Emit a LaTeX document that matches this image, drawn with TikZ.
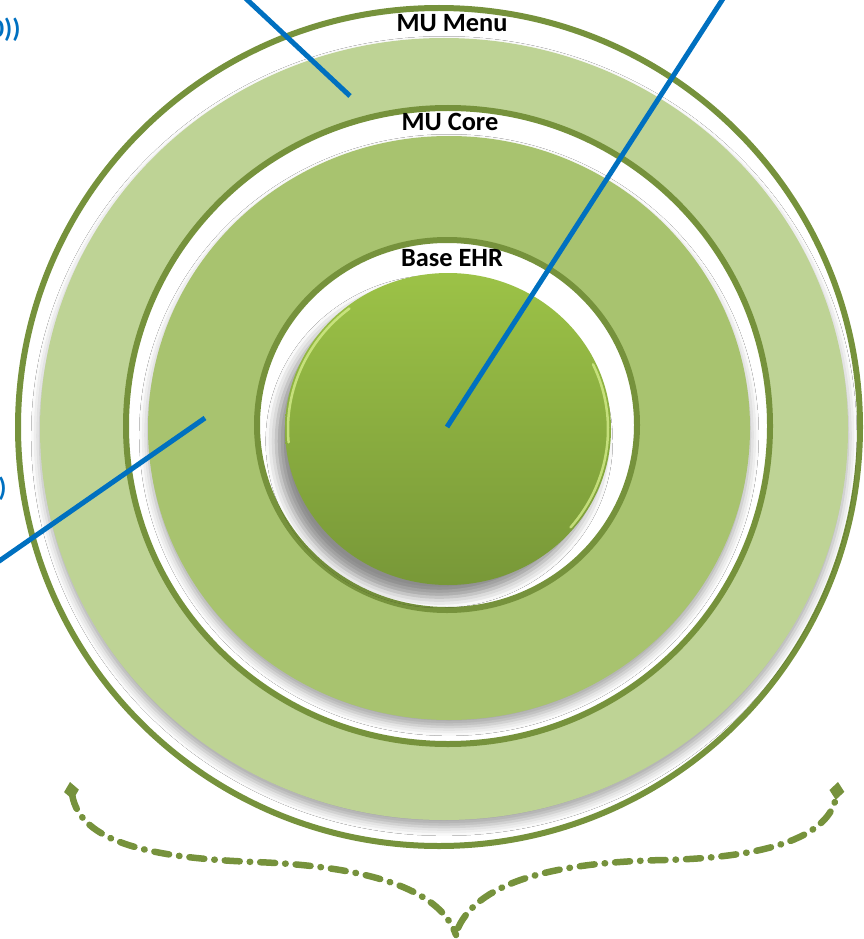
\documentclass[tikz,border=0pt]{standalone}
\usepackage{fontspec}
\setmainfont{Carlito}
\usetikzlibrary{arrows.meta,shadows.blur}

\definecolor{ringgreen}{HTML}{76923C}
\definecolor{menugreen}{HTML}{BED395}
\definecolor{coregreen}{HTML}{A8C36F}
\definecolor{basetop}{HTML}{9CC247}
\definecolor{basebot}{HTML}{789838}
\definecolor{baserim}{HTML}{D4EC8A}
\definecolor{callblue}{HTML}{0070C0}

\begin{document}
\begin{tikzpicture}[
    x=0.02cm, y=-0.02cm,
    outline/.style={
        draw=ringgreen,
        line width=0.12cm
    },
    ringfill/.style={
        blur shadow={shadow xshift=0pt, shadow yshift=-4pt,
            shadow blur radius=5pt, shadow opacity=35}
    },
    rim/.style={draw=baserim, line width=0.05cm, line cap=round, opacity=0.8},
    ringlabel/.style={
        font=\bfseries\fontsize{15}{18}\selectfont,
        inner sep=0pt
    },
    cut/.style={
        font=\bfseries\fontsize{15}{18}\selectfont,
        text=callblue,
        inner sep=0pt
    },
    callout/.style={draw=callblue, line width=0.1cm},
    brace/.style={
        draw=ringgreen,
        line width=0.13cm,
        line cap=round,
        dash pattern=on 0.3cm off 0.2cm on 0.01cm off 0.2cm
    },
    gem/.tip={Diamond[length=0.36cm, width=0.3cm]},
]

\useasboundingbox (0,0) rectangle (864,939);
\clip (0,0) rectangle (864,939);

% rings
\draw[outline, fill=white] (439,427) ellipse [x radius=421, y radius=419];
\fill[ringfill, menugreen] (444,429) ellipse [x radius=404, y radius=391];
\draw[outline, fill=white] (448,426) ellipse [x radius=322, y radius=318];
\fill[ringfill, coregreen] (449,428) ellipse [x radius=301, y radius=292];
\draw[outline, fill=white] (447,425) ellipse [x radius=190, y radius=185];
\shade[top color=basetop, bottom color=basebot,
    blur shadow={shadow xshift=-5pt, shadow yshift=-7pt,
        shadow blur radius=6pt, shadow opacity=45}]
    (448,429) ellipse [x radius=163, y radius=156];
\draw[rim] (448,429) ++(175:160 and 153)
    arc [start angle=175, end angle=232, x radius=160, y radius=153];
\draw[rim] (448,429) ++(-25:160 and 153)
    arc [start angle=-25, end angle=40, x radius=160, y radius=153];

% points
\coordinate (hub) at (447,427);
\coordinate (menupt) at (350,96);
\coordinate (corept) at (205,418);
\coordinate (hubend) at (726,-6);
\coordinate (menuend) at (241,-6);
\coordinate (coreend) at (-8,566);

% labels
\node[ringlabel] (menu) at (452,23) {MU Menu};
\node[ringlabel] (core) at (450,122) {MU Core};
\node[ringlabel] (base) at (452,258) {Base EHR};
\node[cut, anchor=east] (cuttop) at (21,30) {0))};
\node[cut, anchor=east] (cutleft) at (7,489) {)};

% callouts
\draw[callout] (hub) -- (hubend);
\draw[callout] (menupt) -- (menuend);
\draw[callout] (corept) -- (coreend);

% brace
\draw[brace, gem-] (70,782) .. controls (80,842) and (150,858) .. (255,862)
    .. controls (365,866) and (440,888) .. (456,935);
\draw[brace, -gem] (458,928) .. controls (480,880) and (560,862) .. (665,860)
    .. controls (785,857) and (832,830) .. (838,782);

\end{tikzpicture}
\end{document}
